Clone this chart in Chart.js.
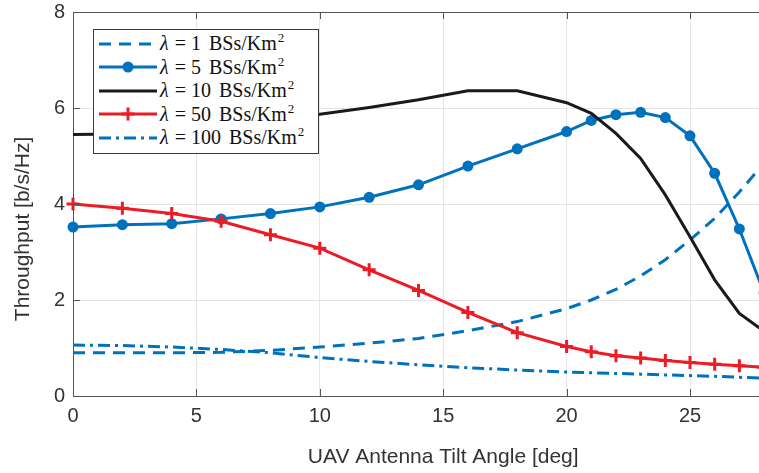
<!DOCTYPE html>
<html lang="en">
<head>
<meta charset="UTF-8">
<title>Throughput vs UAV Antenna Tilt Angle</title>
<script src="https://cdn.jsdelivr.net/npm/chart.js"></script>
<style>
  html, body { margin: 0; padding: 0; overflow: hidden; background: #fff; }
  #wrap { position: relative; width: 840px; height: 473px; }
  #legend {
    position: absolute; left: 93px; top: 29px;
    width: 224px; height: 121px;
    border: 1px solid #3a3a3a; background: #fff;
    padding-top: 2px; box-sizing: content-box;
  }
  .row { display: flex; align-items: center; height: 23.5px; }
  .row svg { margin-left: 5px; flex: none; }
  .row span.txt {
    margin-left: 3px; white-space: nowrap; color: #111;
    font-family: 'Liberation Serif', 'DejaVu Serif', serif; font-size: 20px;
  }
  .row .eq { margin: 0 5px 0 6px; }
  .row .unit { margin-left: 8px; }
  .row sup { font-size: 13px; vertical-align: 8px; line-height: 0; margin-left: 1px; }
</style>
</head>
<body>
<div id="wrap">
  <canvas id="chart" width="840" height="473"></canvas>
  <div id="legend"></div>
</div>

<script>
// tilt angles (deg)
const angles = [0, 2, 4, 6, 8, 10, 12, 14, 16, 18, 20, 21, 22, 23, 24, 25, 26, 27, 28];

// throughput [b/s/Hz] per BS density
const lam1   = [0.90, 0.90, 0.90, 0.91, 0.95, 1.02, 1.10, 1.20, 1.36, 1.55, 1.82, 2.00, 2.22, 2.50, 2.84, 3.25, 3.70, 4.25, 4.85];
const lam5   = [3.52, 3.57, 3.59, 3.69, 3.80, 3.94, 4.14, 4.40, 4.79, 5.15, 5.51, 5.74, 5.86, 5.91, 5.80, 5.42, 4.64, 3.48, 2.15];
const lam10  = [5.45, 5.46, 5.52, 5.62, 5.74, 5.87, 6.01, 6.17, 6.36, 6.36, 6.11, 5.89, 5.47, 4.95, 4.19, 3.32, 2.42, 1.72, 1.35];
const lam50  = [4.00, 3.91, 3.80, 3.64, 3.36, 3.08, 2.63, 2.20, 1.74, 1.32, 1.03, 0.92, 0.84, 0.79, 0.74, 0.70, 0.66, 0.63, 0.60];
const lam100 = [1.06, 1.05, 1.02, 0.97, 0.90, 0.80, 0.72, 0.65, 0.59, 0.54, 0.50, 0.485, 0.47, 0.455, 0.44, 0.425, 0.41, 0.39, 0.37];

const densities = [1, 5, 10, 50, 100];
const xTicks = [0, 5, 10, 15, 20, 25, 30];
const yTicks = [0, 2, 4, 6, 8];
const yTitle = 'Throughput [b/s/Hz]';

const blue = '#0072BD';
const red = '#ED1C24';
const black = '#1a1a1a';

const styles = [
  { color: blue,  dash: [12, 8],       marker: null },
  { color: blue,  dash: [],            marker: 'circle' },
  { color: black, dash: [],            marker: null },
  { color: red,   dash: [],            marker: 'cross' },
  { color: blue,  dash: [12, 5, 3, 5], marker: null }
];
const values = [lam1, lam5, lam10, lam50, lam100];

const datasets = values.map((vals, i) => {
  const s = styles[i];
  return {
    label: 'λ = ' + densities[i] + ' BSs/Km²',
    data: angles.map((a, k) => ({ x: a, y: vals[k] })),
    borderColor: s.color,
    backgroundColor: s.color,
    borderWidth: 3,
    borderDash: s.dash,
    tension: 0,
    clip: false,
    order: values.length - i,
    pointStyle: s.marker || 'circle',
    pointRadius: s.marker === 'circle' ? 5.5 : (s.marker === 'cross' ? 6.5 : 0),
    pointBorderWidth: s.marker === 'cross' ? 3 : 0,
    pointBorderColor: s.color,
    pointBackgroundColor: s.color,
    pointHoverRadius: 0
  };
});

const tickFont = { family: "'Liberation Sans', Arial, sans-serif", size: 20 };
const titleFont = { family: "'Liberation Sans', Arial, sans-serif", size: 21 };

// MATLAB-like box: top border, inward tick marks, y label sitting a bit low like the original
const boxTicks = {
  id: 'boxTicks',
  afterDraw(chart) {
    const { ctx, chartArea: a, scales } = chart;
    ctx.save();
    ctx.strokeStyle = '#555';
    ctx.lineWidth = 1;
    ctx.beginPath();
    ctx.moveTo(a.left, a.top + 0.5);
    ctx.lineTo(a.right, a.top + 0.5);
    xTicks.forEach(v => {
      const px = Math.round(scales.x.getPixelForValue(v)) + 0.5;
      ctx.moveTo(px, a.bottom); ctx.lineTo(px, a.bottom - 7);
      ctx.moveTo(px, a.top); ctx.lineTo(px, a.top + 7);
    });
    yTicks.forEach(v => {
      const py = Math.round(scales.y.getPixelForValue(v)) + 0.5;
      ctx.moveTo(a.left, py); ctx.lineTo(a.left + 7, py);
    });
    ctx.stroke();

    ctx.translate(23, a.top + (a.bottom - a.top) * 0.565);
    ctx.rotate(-Math.PI / 2);
    ctx.font = titleFont.size + 'px ' + titleFont.family;
    ctx.fillStyle = '#333';
    ctx.textAlign = 'center';
    ctx.textBaseline = 'middle';
    ctx.fillText(yTitle, 0, 0);
    ctx.restore();
  }
};

new Chart(document.getElementById('chart'), {
  type: 'line',
  data: { datasets: datasets },
  options: {
    responsive: false,
    animation: false,
    layout: { padding: { left: 0, top: 12, right: 26.6, bottom: 0 } },
    plugins: { legend: { display: false }, tooltip: { enabled: false } },
    scales: {
      x: {
        type: 'linear', min: 0, max: 30,
        afterBuildTicks: s => { s.ticks = xTicks.map(v => ({ value: v })); },
        afterFit: s => { s.height = 77; },
        ticks: { font: tickFont, color: '#333', padding: 8 },
        grid: { color: '#e6e6e6', drawTicks: false },
        border: { color: '#555' },
        title: { display: true, text: 'UAV Antenna Tilt Angle [deg]', font: titleFont, color: '#333', padding: { top: 0, bottom: 3 } }
      },
      y: {
        min: 0, max: 8,
        afterBuildTicks: s => { s.ticks = yTicks.map(v => ({ value: v })); },
        afterFit: s => { s.width = 73; s.paddingTop = 0; s.paddingBottom = 0; },
        ticks: { font: tickFont, color: '#333', padding: 8 },
        grid: { color: '#e6e6e6', drawTicks: false },
        border: { color: '#555' }
      }
    }
  },
  plugins: [boxTicks]
});

// legend drawn as html
const legend = document.getElementById('legend');
styles.forEach((s, i) => {
  const row = document.createElement('div');
  row.className = 'row';
  let mark = '';
  if (s.marker === 'circle') mark = `<circle cx="29" cy="7" r="5.5" fill="${s.color}"/>`;
  if (s.marker === 'cross') mark = `<path d="M22.5 7H35.5M29 0.5V13.5" stroke="${s.color}" stroke-width="3"/>`;
  row.innerHTML =
    `<svg width="58" height="14"><line x1="0" y1="7" x2="58" y2="7" stroke="${s.color}" stroke-width="3" stroke-dasharray="${s.dash.join(' ') || 'none'}"/>${mark}</svg>` +
    `<span class="txt"><i>λ</i><span class="eq">=</span>${densities[i]}<span class="unit">BSs/Km<sup>2</sup></span></span>`;
  legend.appendChild(row);
});
</script>
</body>
</html>
